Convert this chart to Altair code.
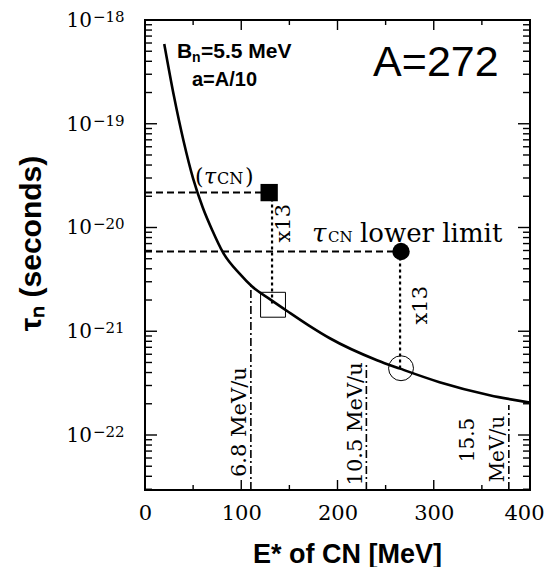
import altair as alt
import pandas as pd

# ---------------- data ----------------
curve_e = [20, 30, 40, 50, 60, 70, 81, 99, 111, 130, 148, 170, 192, 241, 265, 306, 358, 400]
curve_tau = [5.88e-19, 1.86e-19, 6.86e-20, 2.96e-20, 1.56e-20, 9.36e-21, 5.75e-21, 3.53e-21,
             2.71e-21, 2.03e-21, 1.56e-21, 1.14e-21, 8.56e-22, 5.26e-22, 4.36e-22, 3.23e-22,
             2.42e-22, 2.05e-22]

filled_sq_e, filled_sq_tau = [129], [2.17e-20]
filled_ci_e, filled_ci_tau = [266], [5.87e-21]
open_sq_e, open_sq_tau = [133], [1.8e-21]
open_ci_e, open_ci_tau = [266], [4.4e-22]

# dashed guide lines (horizontal: from E=0 to point)
hdash_x0 = [0, 0]
hdash_x1 = [129, 266]
hdash_y = [2.17e-20, 5.87e-21]
# vertical dotted (x13 arrows)
vdash_x = [132, 265]
vdash_y0 = [2.17e-20, 5.87e-21]
vdash_y1 = [1.8e-21, 4.4e-22]
# dash-dot beam energy lines
beam_x = [110, 230, 378]
beam_top = [2.71e-21, 4.8e-22, 1.95e-22]
y_min, y_max = 2.95e-23, 1e-18

x_major = [0, 100, 200, 300, 400]
x_minor = [50, 150, 250, 350]
y_major = [1e-22, 1e-21, 1e-20, 1e-19, 1e-18]
y_exp = ["\u221222", "\u221221", "\u221220", "\u221219", "\u221218"]
y_minor = [k * 10.0 ** p for p in range(-23, -18) for k in range(2, 10)
           if y_min <= k * 10.0 ** p <= y_max]

xs = alt.Scale(domain=[0, 400], nice=False)
ys = alt.Scale(type="log", domain=[y_min, y_max], nice=False)

W, H = 385, 470

AX_X = alt.Axis(
    values=x_major, ticks=False, domain=False, grid=False, format="d",
    labelFont="DejaVu Serif", labelFontSize=21, labelPadding=12, labelFlush=False,
    labelColor="black",
    labelOffset={"condition": {"test": "datum.value == 400", "value": -6}, "value": 0},
    title="E* of CN [MeV]", titleFont="Liberation Sans", titleFontSize=27,
    titleFontWeight="bold", titleColor="black", titleX=202, titleY=72,
    titleBaseline="alphabetic", titleAlign="center")
AX_Y = alt.Axis(
    labels=False, ticks=False, domain=False, grid=False,
    title="\u03c4\u2099 (seconds)", titleFont="Liberation Sans", titleFontSize=30,
    titleFontWeight="bold", titleColor="black", titleAngle=270, titleX=-105,
    titleY=223, titleAlign="center", titleBaseline="alphabetic")


def X(f="E"):
    return alt.X(f"{f}:Q", scale=xs, axis=AX_X, title="E* of CN [MeV]")


def Y(f="tau"):
    return alt.Y(f"{f}:Q", scale=ys, axis=AX_Y, title="\u03c4\u2099 (seconds)")


def one(x, y, t=""):
    return pd.DataFrame({"E": [x], "tau": [y], "t": [t]})


layers = []

# ---- curve ----
curve = alt.Chart(pd.DataFrame({"E": curve_e, "tau": curve_tau})).mark_line(
    color="black", strokeWidth=2.6, interpolate="monotone"
).encode(x=X(), y=Y())
layers.append(curve)

# ---- tick marks (inward) ----
def xticks(vals, length):
    d = pd.DataFrame({"E": vals})
    b = alt.Chart(d).mark_rule(color="black", strokeWidth=1.4).encode(
        x=X(), y=alt.value(H), y2=alt.value(H - length))
    t = alt.Chart(d).mark_rule(color="black", strokeWidth=1.4).encode(
        x=X(), y=alt.value(0), y2=alt.value(length))
    return [b, t]


def yticks(vals, length):
    d = pd.DataFrame({"tau": vals})
    l = alt.Chart(d).mark_rule(color="black", strokeWidth=1.4).encode(
        y=Y(), x=alt.value(0), x2=alt.value(length))
    r = alt.Chart(d).mark_rule(color="black", strokeWidth=1.4).encode(
        y=Y(), x=alt.value(W), x2=alt.value(W - length))
    return [l, r]


layers += xticks(x_major, 10) + xticks(x_minor, 5) + yticks(y_major, 12) + yticks(y_minor, 7)

# y tick labels 10^n
ylab = pd.DataFrame({"tau": y_major, "exp": y_exp})
layers.append(alt.Chart(ylab).mark_text(
    align="right", baseline="middle", font="DejaVu Serif", fontSize=20, dy=1, color="black"
).encode(y=Y(), x=alt.value(-53), text=alt.value("10")))
layers.append(alt.Chart(ylab).mark_text(
    align="left", baseline="middle", font="DejaVu Serif", fontSize=15, dy=-3, color="black"
).encode(y=Y(), x=alt.value(-52), text="exp:N"))

# ---- guide lines ----
hd = pd.DataFrame({"E": hdash_x0, "E2": hdash_x1, "tau": hdash_y})
layers.append(alt.Chart(hd).mark_rule(color="black", strokeWidth=2, strokeDash=[7, 4]).encode(
    x=X(), x2="E2:Q", y=Y()))
vd = pd.DataFrame({"E": vdash_x, "tau": vdash_y0, "tau2": vdash_y1})
layers.append(alt.Chart(vd).mark_rule(color="black", strokeWidth=2.2, strokeDash=[3, 3]).encode(
    x=X(), y=Y(), y2="tau2:Q"))
bd = pd.DataFrame({"E": beam_x, "tau": [y_min] * len(beam_x), "tau2": beam_top})
layers.append(alt.Chart(bd).mark_rule(color="black", strokeWidth=1.6, strokeDash=[8, 3, 2, 3]).encode(
    x=X(), y=Y(), y2="tau2:Q"))

# ---- markers ----
layers.append(alt.Chart(pd.DataFrame({"E": filled_sq_e, "tau": filled_sq_tau})).mark_point(
    shape="square", filled=True, size=300, color="black", opacity=1).encode(x=X(), y=Y()))
layers.append(alt.Chart(pd.DataFrame({"E": filled_ci_e, "tau": filled_ci_tau})).mark_point(
    shape="circle", filled=True, size=300, color="black", opacity=1).encode(x=X(), y=Y()))
layers.append(alt.Chart(pd.DataFrame({"E": open_sq_e, "tau": open_sq_tau})).mark_point(
    shape="square", filled=False, size=620, color="black", strokeWidth=1, opacity=1).encode(x=X(), y=Y()))
layers.append(alt.Chart(pd.DataFrame({"E": open_ci_e, "tau": open_ci_tau})).mark_point(
    shape="circle", filled=False, size=620, color="black", strokeWidth=1, opacity=1).encode(x=X(), y=Y()))

# ---- annotations ----
def txt(text, x, y, **kw):
    style = dict(color="black", align="left", baseline="alphabetic")
    style.update(kw)
    return alt.Chart(one(x, y, text)).mark_text(**style).encode(x=X(), y=Y(), text="t:N")


SANS = "Liberation Sans"
SERIF = "DejaVu Serif"

ann_pos = {
    "bn": (33.2, 4.3e-19),
    "a": (48.8, 2.3e-19),
    "A": (237, 2.9e-19),
    "tcn": (52, 2.65e-20),
    "lower": (173.5, 7.2e-21),
    "x13a": (150.6, 1.1e-20),
    "x13b": (293, 1.78e-21),
    "b68": (104.5, 1.33e-22),
    "b105": (225.5, 1.28e-22),
    "b155a": (342, 8.95e-23),
    "b155b": (373, 7.3e-23),
}

layers += [
    txt("B", *ann_pos["bn"], font=SANS, fontWeight="bold", fontSize=21),
    txt("n", *ann_pos["bn"], font=SANS, fontWeight="bold", fontSize=14, dx=15, dy=4),
    txt("=5.5 MeV", *ann_pos["bn"], font=SANS, fontWeight="bold", fontSize=21, dx=24),
    txt("a=A/10", *ann_pos["a"], font=SANS, fontWeight="bold", fontSize=20),
    txt("A=272", *ann_pos["A"], font=SANS, fontSize=43),
    txt("(", *ann_pos["tcn"], font=SERIF, fontSize=22),
    txt("\u03c4", *ann_pos["tcn"], font=SERIF, fontStyle="italic", fontSize=22, dx=9),
    txt("CN", *ann_pos["tcn"], font=SERIF, fontSize=16, dx=22),
    txt(")", *ann_pos["tcn"], font=SERIF, fontSize=22, dx=50),
    txt("\u03c4", *ann_pos["lower"], font=SERIF, fontStyle="italic", fontSize=26),
    txt("CN", *ann_pos["lower"], font=SERIF, fontSize=15, dx=16),
    txt("lower limit", *ann_pos["lower"], font=SERIF, fontSize=26, dx=48),
    txt("x13", *ann_pos["x13a"], font=SERIF, fontSize=21, angle=270, align="center"),
    txt("x13", *ann_pos["x13b"], font=SERIF, fontSize=21, angle=270, align="center"),
    txt("6.8 MeV/u", *ann_pos["b68"], font=SERIF, fontSize=21, angle=270, align="center"),
    txt("10.5 MeV/u", *ann_pos["b105"], font=SERIF, fontSize=21, angle=270, align="center"),
    txt("15.5", *ann_pos["b155a"], font=SERIF, fontSize=20, angle=270, align="center"),
    txt("MeV/u", *ann_pos["b155b"], font=SERIF, fontSize=20, angle=270, align="center"),
]

chart = alt.layer(*layers).properties(
    width=W, height=H,
    padding={"left": 137, "top": 12, "right": 17, "bottom": 77},
    autosize=alt.AutoSizeParams(type="none"),
).configure_view(stroke="black", strokeWidth=2)

chart.save("out.html", embed_options={"renderer": "svg", "actions": False})
